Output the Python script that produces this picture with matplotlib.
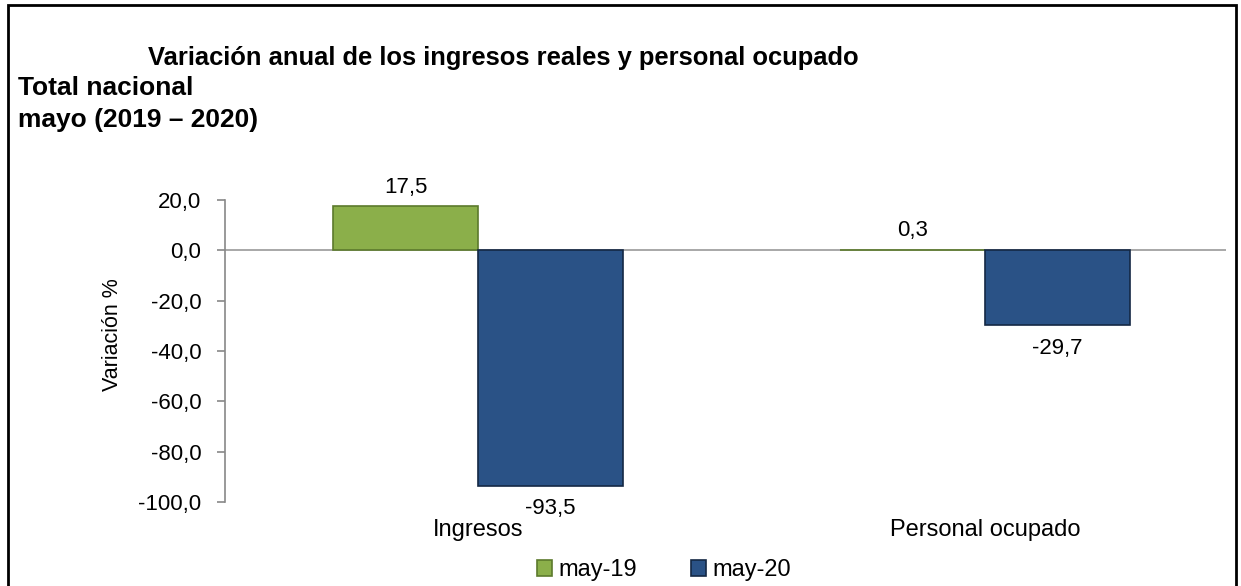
import matplotlib.pyplot as plt
import numpy as np

categories = ['Ingresos', 'Personal ocupado']
series_names = ['may-19', 'may-20']
may19 = [17.5, 0.3]
may20 = [-93.5, -29.7]
yticks = [20, 0, -20, -40, -60, -80, -100]

colors = ['#8BAF4A', '#2A5286']
edges = ['#5C7A2C', '#142844']

plt.rcParams['font.family'] = ['Liberation Sans', 'DejaVu Sans']
narrow = ['Liberation Sans Narrow', 'Liberation Sans', 'DejaVu Sans']

fig = plt.figure(figsize=(12.41, 5.86), dpi=100)
ax = fig.add_axes([225 / 1241, 84 / 586, 1001 / 1241, 302 / 586])

x = np.arange(len(categories))
w = 0.286
bars1 = ax.bar(x - w / 2, may19, w, color=colors[0], edgecolor=edges[0], linewidth=1.2, label=series_names[0])
bars2 = ax.bar(x + w / 2, may20, w, color=colors[1], edgecolor=edges[1], linewidth=1.2, label=series_names[1])

# value labels, comma decimal
def fmt(v):
    return f'{v:.1f}'.replace('.', ',')

for bars, vals in [(bars1, may19), (bars2, may20)]:
    for b, v in zip(bars, vals):
        cx = b.get_x() + b.get_width() / 2
        if v >= 0:
            ax.annotate(fmt(v), (cx, v), xytext=(0, 6), textcoords='offset points',
                        ha='center', va='bottom', fontsize=16)
        else:
            ax.annotate(fmt(v), (cx, v), xytext=(0, -9), textcoords='offset points',
                        ha='center', va='top', fontsize=16)

ax.set_xlim(-0.499, 1.475)
ax.set_ylim(-100, 20)
ax.set_yticks(yticks)
ax.set_yticklabels([fmt(v) for v in yticks], fontsize=16)
ax.set_xticks(x)
ax.set_xticklabels(categories, fontsize=17)
ax.tick_params(axis='x', length=0, pad=12)
ax.tick_params(axis='y', length=6, color='#888888', width=1.2, pad=11)

for s in ['top', 'right', 'bottom']:
    ax.spines[s].set_visible(False)
ax.spines['left'].set_color('#888888')
ax.spines['left'].set_linewidth(1.2)
ax.axhline(0, color='#999999', linewidth=1.2, zorder=0)

fig.text(113 / 1241, 1 - 335 / 586, 'Variación %', fontsize=15.5, rotation=90,
         ha='center', va='center', family=narrow)

fig.text(148 / 1241, 1 - 58 / 586, 'Variación anual de los ingresos reales y personal ocupado',
         fontsize=18.4, fontweight='bold', ha='left', va='center', family=narrow)
fig.text(18 / 1241, 1 - 88 / 586, 'Total nacional', fontsize=19, fontweight='bold',
         ha='left', va='center', family=narrow)
fig.text(18 / 1241, 1 - 120 / 586, 'mayo (2019 – 2020)', fontsize=19, fontweight='bold',
         ha='left', va='center', family=narrow)

fig.legend(loc='center', bbox_to_anchor=(664 / 1241, 1 - 570 / 586), ncol=2, frameon=False,
           fontsize=17, handlelength=0.64, handleheight=0.64, handletextpad=0.25, columnspacing=2.3)

# outer frame
frame = plt.Rectangle((8 / 1241, -0.01), 1228 / 1241, 1 - 5 / 586 + 0.01, transform=fig.transFigure,
                      fill=False, edgecolor='black', linewidth=2)
fig.patches.append(frame)

fig.savefig('out.png', dpi=100)
